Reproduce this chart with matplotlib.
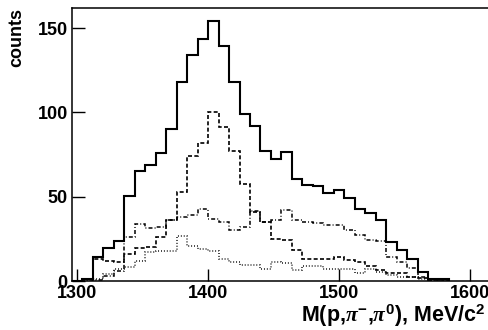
import numpy as np
import matplotlib
matplotlib.use('Agg')
import matplotlib.pyplot as plt

plt.rcParams['font.family'] = ['Liberation Sans', 'DejaVu Sans']
plt.rcParams['font.weight'] = 'bold'
plt.rcParams['mathtext.fontset'] = 'custom'
plt.rcParams['mathtext.rm'] = 'Liberation Sans:bold'
plt.rcParams['mathtext.bf'] = 'Liberation Sans:bold'
plt.rcParams['mathtext.it'] = 'Liberation Serif:italic'

# bin edges, 8 MeV bins starting at 1296
edges = np.arange(1296, 1296 + 8 * 37, 8)

# total
total = [0, 1, 14.4, 19.5, 24, 50.5, 65.5, 69, 76, 90, 118, 134, 143.5, 154.5,
         139.5, 118, 99, 92, 77, 72.5, 76.5, 60.5, 57, 56.5, 52.5, 54, 49, 43,
         40.5, 36, 23, 18.5, 13, 5.5, 1.2, 1]
# dashed component (peak at 1400)
comp_dash = [0, 1, 12.9, 12, 11, 16, 19.5, 20.3, 26, 36, 53, 74, 82, 100.4,
             91.5, 77, 57.5, 41, 35, 25, 24.3, 18.4, 13, 13, 13, 14.2, 12.5,
             11.5, 9, 6.5, 5, 5, 2.5, 2, 0.7, 0.5]
# dash-dot component (broad)
comp_dashdot = [0, 0, 0.5, 3, 6, 26, 34, 31.3, 32, 36, 38, 39, 42.5, 37,
                35, 30, 32, 41.5, 35, 36, 42, 36, 35, 34.5, 33, 33, 30,
                27.5, 24.5, 24, 14, 11, 8, 2.5, 0.5, 0.5]
# dotted component (small)
comp_dot = [0, 0, 1, 4, 7, 8.5, 12, 17.4, 18, 18, 27, 21, 19, 18, 13, 11,
            9.5, 9.5, 7, 11, 10.5, 6.5, 9, 9, 7, 7, 7, 4.5, 7, 5.5, 3.5,
            2.5, 2.5, 1, 0, 0]

fig = plt.figure(figsize=(4.89, 3.30), dpi=100)
ax = fig.add_axes([72 / 489, 1 - 281 / 330, 1 - 72 / 489, (281 - 8) / 330])

ax.stairs(total, edges, color='black', lw=1.5)
ax.stairs(comp_dash, edges, color='black', lw=1.2, linestyle=(0, (2.4, 1.4)))
ax.stairs(comp_dashdot, edges, color='black', lw=1.1,
          linestyle=(0, (2.6, 1.4, 0.6, 1.4)))
ax.stairs(comp_dot, edges, color='black', lw=1.1, linestyle=(0, (0.6, 1.3)))

ax.set_xlim(1296, 1614.6)
ax.set_ylim(0, 162)
ax.set_xticks([1300, 1400, 1500, 1600])
ax.set_yticks([0, 50, 100, 150])
ax.tick_params(direction='in', length=9, width=1, labelsize=13, pad=3)
ax.spines['right'].set_visible(False)
for s in ['left', 'bottom', 'top']:
    ax.spines[s].set_linewidth(1.1)

ax.set_xlabel(r'M(p,$\pi^{-}$,$\pi^{0}$), MeV/c$^{2}$', fontsize=15.5,
              fontweight='bold', loc='right', labelpad=0)
ax.xaxis.label.set_x(0.993)
ax.set_ylabel('counts', fontsize=13, fontweight='bold', loc='top', labelpad=9)

fig.savefig('out.png', dpi=100)
